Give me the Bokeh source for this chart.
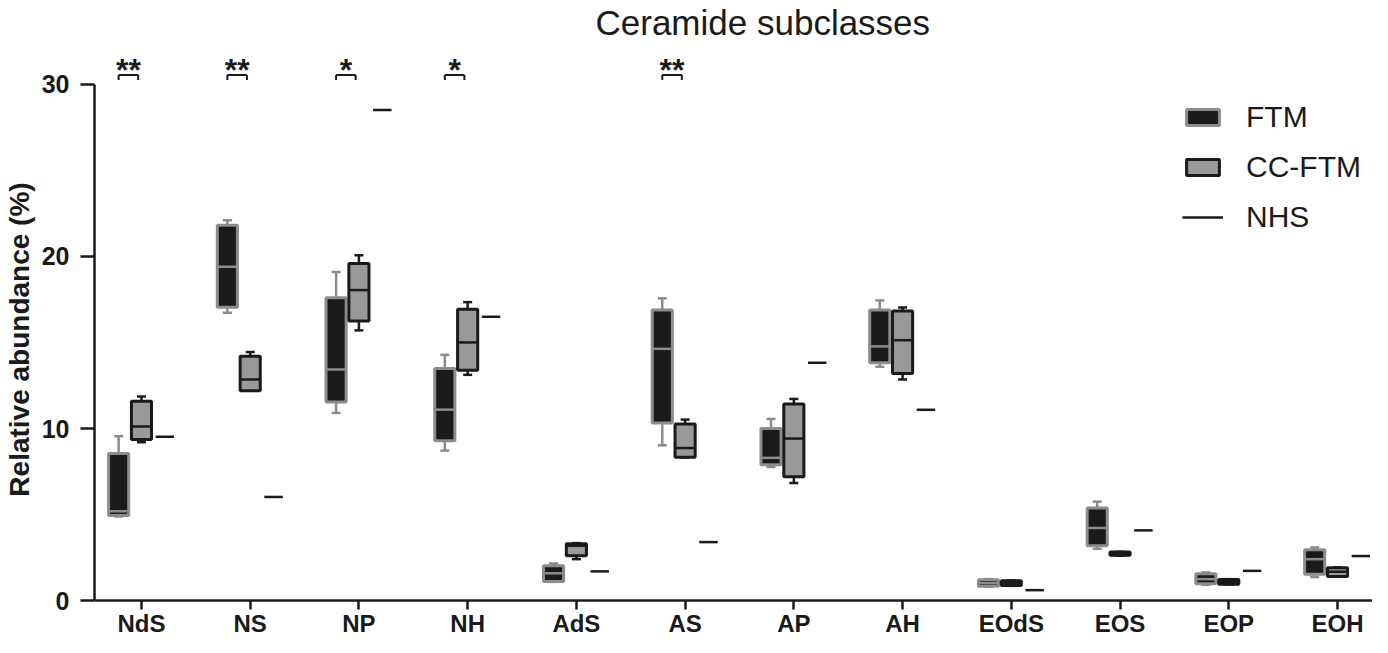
from bokeh.plotting import figure
from bokeh.models import (ColumnDataSource, Range1d, FixedTicker, Legend, LegendItem)
from bokeh.transform import dodge
from bokeh.core.properties import value
from bokeh.embed import file_html
from bokeh.resources import INLINE

# ---------------- data ----------------
categories = ["NdS", "NS", "NP", "NH", "AdS", "AS", "AP", "AH",
              "EOdS", "EOS", "EOP", "EOH"]

ftm_min = [4.90, 16.73, 10.91, 8.72, 1.10, 9.03, 7.77, 13.59, 0.83, 3.02, 0.93, 1.38]
ftm_q1  = [4.96, 17.05, 11.55, 9.30, 1.12, 10.33, 7.90, 13.82, 0.85, 3.20, 0.99, 1.55]
ftm_med = [5.20, 19.40, 13.43, 11.10, 1.60, 14.63, 8.30, 14.77, 1.03, 4.23, 1.26, 2.42]
ftm_q3  = [8.55, 21.80, 17.60, 13.49, 2.03, 16.88, 10.00, 16.88, 1.22, 5.39, 1.57, 2.97]
ftm_max = [9.55, 22.09, 19.09, 14.28, 2.17, 17.56, 10.56, 17.44, 1.26, 5.76, 1.65, 3.10]

cc_min = [9.20, 12.20, 15.70, 13.12, 2.42, 8.33, 6.84, 12.85, 0.87, 2.62, 0.95, 1.40]
cc_q1  = [9.36, 12.20, 16.24, 13.39, 2.62, 8.33, 7.21, 13.20, 0.89, 2.64, 0.97, 1.42]
cc_med = [10.12, 12.85, 18.04, 15.00, 3.20, 8.87, 9.42, 15.13, 1.03, 2.73, 1.10, 1.69]
cc_q3  = [11.59, 14.20, 19.59, 16.92, 3.31, 10.27, 11.43, 16.82, 1.16, 2.83, 1.24, 1.92]
cc_max = [11.86, 14.44, 20.06, 17.34, 3.35, 10.52, 11.72, 17.03, 1.18, 2.85, 1.26, 1.94]

nhs = [9.53, 6.03, 28.50, 16.49, 1.71, 3.41, 13.82, 11.09, 0.62, 4.09, 1.74, 2.60]

sig_categories = ["NdS", "NS", "NP", "NH", "AS"]
sig_labels = ["**", "**", "*", "*", "**"]

y_ticks = [0, 10, 20, 30]

# ---------------- style ----------------
FONT = "Liberation Sans"
DARK = "#1a1a1a"
GREY = "#8c8c8c"
MID = "#999999"
F_OFF, C_OFF, N_OFF = -0.21, 0.0, 0.215
BOX_W = 0.185
NHS_W = 0.17

pos = list(range(len(categories)))
cat_pos = dict(zip(categories, pos))

src = ColumnDataSource(dict(cat=categories, pos=pos,
                            f_min=ftm_min, f_q1=ftm_q1, f_med=ftm_med, f_q3=ftm_q3, f_max=ftm_max,
                            c_min=cc_min, c_q1=cc_q1, c_med=cc_med, c_q3=cc_q3, c_max=cc_max,
                            nhs=nhs))
sig_src = ColumnDataSource(dict(cat=sig_categories, pos=[cat_pos[c] for c in sig_categories],
                                label=sig_labels))

p = figure(width=1372, height=637, x_range=Range1d(-0.432, 11.322), y_range=Range1d(-2.128, 32.47),
           output_backend="svg", toolbar_location=None, min_border=0,
           min_border_left=87, min_border_right=0, min_border_top=0, min_border_bottom=0)
p.outline_line_color = None
p.xgrid.grid_line_color = None
p.ygrid.grid_line_color = None

p.title.text = "Ceramide subclasses"
p.title.text_font = FONT
p.title.text_font_size = "35px"
p.title.text_font_style = "normal"
p.title.text_color = DARK
p.title.align = "left"
p.title.offset = 501
p.title.standoff = 0


def dx(off):
    return dodge("pos", off)


def box(prefix, off, fill, edge):
    p.segment(x0=dx(off), x1=dx(off), y0=prefix + "_q3", y1=prefix + "_max",
              line_color=edge, line_width=2.5, source=src)
    p.segment(x0=dx(off), x1=dx(off), y0=prefix + "_min", y1=prefix + "_q1",
              line_color=edge, line_width=2.5, source=src)
    p.dash(x=dx(off), y=prefix + "_max", size=9, line_color=edge, line_width=2.5, source=src)
    p.dash(x=dx(off), y=prefix + "_min", size=9, line_color=edge, line_width=2.5, source=src)
    r = p.vbar(x=dx(off), width=BOX_W, bottom=prefix + "_q1", top=prefix + "_q3",
               fill_color=fill, line_color=edge, line_width=3, source=src)
    p.segment(x0=dx(off - BOX_W / 2), x1=dx(off + BOX_W / 2), y0=prefix + "_med", y1=prefix + "_med",
              line_color=edge, line_width=2.5, source=src)
    return r


r_ftm = box("f", F_OFF, DARK, GREY)
r_cc = box("c", C_OFF, MID, DARK)
r_nhs = p.segment(x0=dx(N_OFF - NHS_W / 2), x1=dx(N_OFF + NHS_W / 2), y0="nhs", y1="nhs",
                  line_color=DARK, line_width=2.5, source=src)

# significance brackets
BR_Y, BR_LEG, BR_R = 30.52, 0.29, -0.03
p.segment(x0=dx(F_OFF), x1=dx(BR_R), y0=BR_Y, y1=BR_Y, line_color=DARK, line_width=2, source=sig_src)
p.segment(x0=dx(F_OFF), x1=dx(F_OFF), y0=BR_Y, y1=BR_Y - BR_LEG, line_color=DARK, line_width=2, source=sig_src)
p.segment(x0=dx(BR_R), x1=dx(BR_R), y0=BR_Y, y1=BR_Y - BR_LEG, line_color=DARK, line_width=2, source=sig_src)
p.text(x=dx((F_OFF + BR_R) / 2), y=30.80, text="label", source=sig_src,
       text_font=value(FONT), text_font_size="32px", text_font_style="bold",
       text_align="center", text_baseline="alphabetic", text_color=DARK)

# axes
for ax in (p.xaxis[0], p.yaxis[0]):
    ax.axis_line_color = DARK
    ax.axis_line_width = 2.5
    ax.major_tick_line_color = DARK
    ax.major_tick_line_width = 2.5
    ax.major_tick_out = 14
    ax.major_tick_in = 0
    ax.minor_tick_line_color = None
    ax.major_label_text_font = FONT
    ax.major_label_text_font_style = "bold"
    ax.major_label_text_color = DARK

p.xaxis.fixed_location = 0
p.xaxis.ticker = FixedTicker(ticks=pos)
p.xaxis.major_label_overrides = {i: c for i, c in zip(pos, categories)}
p.xaxis.major_tick_out = 9
p.xaxis.major_label_text_font_size = "24px"
p.xaxis.major_label_standoff = 0

p.yaxis.ticker = FixedTicker(ticks=y_ticks)
p.yaxis.bounds = (0, 30)
p.yaxis.major_label_text_font_size = "25px"
p.yaxis.major_label_standoff = 11
p.yaxis.axis_label = "Relative abundance (%)"
p.yaxis.axis_label_text_font = FONT
p.yaxis.axis_label_text_font_size = "28px"
p.yaxis.axis_label_text_font_style = "bold"
p.yaxis.axis_label_text_color = DARK
p.yaxis.axis_label_standoff = 4

legend = Legend(items=[LegendItem(label="FTM", renderers=[r_ftm]),
                       LegendItem(label="CC-FTM", renderers=[r_cc]),
                       LegendItem(label="NHS", renderers=[r_nhs])],
                location=(1088, 403), glyph_width=41, glyph_height=20, label_standoff=23,
                label_height=34, spacing=16, padding=0, border_line_color=None,
                background_fill_alpha=0, label_text_font=FONT, label_text_font_size="30px",
                label_text_color=DARK)
p.add_layout(legend)

open("out.html", "w").write(file_html(p, INLINE))
